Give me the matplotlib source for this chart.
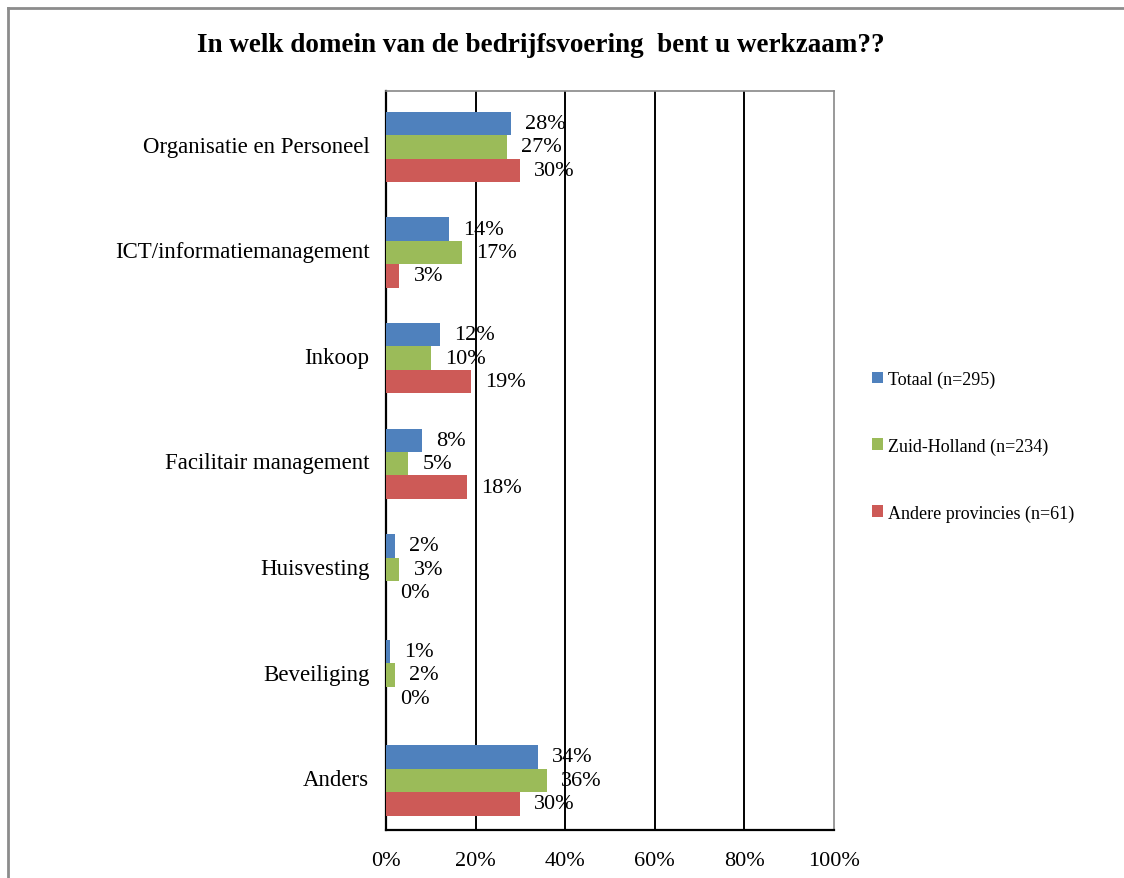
import matplotlib.pyplot as plt
from matplotlib.patches import Patch
from matplotlib.lines import Line2D
import numpy as np

plt.rcParams['font.family'] = ['Liberation Serif', 'DejaVu Serif']

categories = ['Organisatie en Personeel', 'ICT/informatiemanagement', 'Inkoop',
              'Facilitair management', 'Huisvesting', 'Beveiliging', 'Anders']
series_names = ['Totaal (n=295)', 'Zuid-Holland (n=234)', 'Andere provincies (n=61)']
totaal = [28, 14, 12, 8, 2, 1, 34]
zuid_holland = [27, 17, 10, 5, 3, 2, 36]
andere = [30, 3, 19, 18, 0, 0, 30]
colors = ['#4F81BD', '#9BBB59', '#CD5A57']
xticks = [0, 20, 40, 60, 80, 100]

fig = plt.figure(figsize=(11.24, 8.79), dpi=100)
ax = fig.add_axes([386 / 1124, 1 - 831 / 879, 448 / 1124, 739 / 879])

y = np.arange(len(categories))
h = 0.222
for k, (vals, col) in enumerate(zip([totaal, zuid_holland, andere], colors)):
    ypos = y + (k - 1) * h + 0.03
    ax.barh(ypos, vals, height=h, color=col, zorder=3)
    for yy, v in zip(ypos, vals):
        ax.annotate(f'{v}%', (v, yy), xytext=(14, 0), textcoords='offset pixels',
                    ha='left', va='center', fontsize=16, zorder=4)

ax.set_xlim(0, 100)
ax.set_ylim(len(categories) - 0.5, -0.5)
ax.set_xticks(xticks)
ax.set_xticklabels([f'{t}%' for t in xticks], fontsize=16)
ax.set_yticks(y)
ax.set_yticklabels(categories, fontsize=16.5)
ax.tick_params(axis='both', length=0)
ax.tick_params(axis='x', pad=15)
ax.tick_params(axis='y', pad=12)

for t in xticks[1:-1]:
    ax.axvline(t, color='black', lw=1.4, zorder=1)
ax.spines['left'].set_linewidth(1.6)
ax.spines['bottom'].set_linewidth(1.6)
ax.spines['top'].set_color('#888888')
ax.spines['right'].set_color('#888888')
ax.spines['top'].set_linewidth(1.2)
ax.spines['right'].set_linewidth(1.2)

fig.text(541 / 1124, 1 - 45 / 879, 'In welk domein van de bedrijfsvoering  bent u werkzaam??',
         ha='center', va='center', fontsize=19.5, fontweight='bold')

handles = [Patch(facecolor=c, edgecolor='none') for c in colors]
fig.legend(handles, series_names, loc='center left',
           bbox_to_anchor=(872 / 1124, 1 - 447 / 879), frameon=False,
           fontsize=13, handlelength=0.6, handleheight=0.6, handletextpad=0.3,
           labelspacing=2.75, borderpad=0, borderaxespad=0)

# outer chart frame
fig.add_artist(Line2D([7.5 / 1124, 1], [1 - 8.5 / 879] * 2, color='#8c8c8c', lw=2))
fig.add_artist(Line2D([7.5 / 1124] * 2, [0, 1 - 8.5 / 879], color='#8c8c8c', lw=2))

fig.savefig('out.png', dpi=100)
